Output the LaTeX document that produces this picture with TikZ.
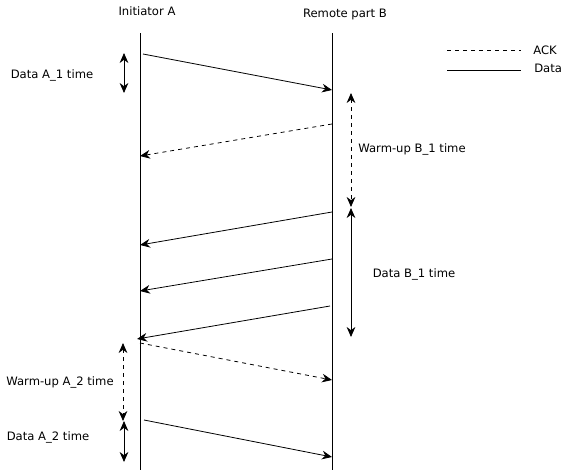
\documentclass[tikz,border=0pt]{standalone}
\usepackage{fontspec}
\setmainfont{DejaVu Sans}
\usetikzlibrary{arrows.meta}
\tikzstyle{diagram} = [x = 0.75pt, y = -0.75pt, every node/.style={font=\fontsize{8.7}{10}\selectfont}]
\tikzstyle{lifeLine} = [color=black, semithick]
\tikzstyle{dataMsg} = [color=black, semithick, -{Stealth[length=7.5pt, width=6.5pt]}]
\tikzstyle{ackMsg} = [dataMsg, dashed]
\tikzstyle{spanStyle} = [color=black, semithick, {Stealth[length=7.5pt, width=6.5pt]}-{Stealth[length=7.5pt, width=6.5pt]}]
\tikzstyle{warmSpan} = [spanStyle, dashed]
\newcommand{\lifeLineAt}[2]{\coordinate (#1Top) at (#2, 33); \coordinate (#1Bottom) at (#2, 470); \draw [lifeLine] (#1Top) -- (#1Bottom);}
\newcommand{\sendMsg}[4]{\coordinate (#1Start) at (#3); \coordinate (#1End) at (#4); \draw [#2] (#1Start) -- (#1End);}

\begin{document}
\begin{tikzpicture}[diagram]
  \useasboundingbox (0,0) rectangle (561,475);

  % lifelines
  \lifeLineAt{lineA}{140}
  \lifeLineAt{lineB}{332}
  \node (titleA) at (147,11) {Initiator A};
  \node (titleB) at (345,14) {Remote part B};

  % legend
  \coordinate (ackLeft) at (447,50);
  \coordinate (ackRight) at (521,50);
  \coordinate (dataLeft) at (447,70);
  \coordinate (dataRight) at (521,70);
  \draw [lifeLine, dashed] (ackLeft) -- (ackRight);
  \draw [lifeLine] (dataLeft) -- (dataRight);
  \node [anchor=west, inner sep=0pt] (ackText) at (533,50) {ACK};
  \node [anchor=west, inner sep=0pt] (dataText) at (534,68) {Data};

  % messages
  \sendMsg{msgOne}{dataMsg}{143,54}{332,90}
  \sendMsg{msgTwo}{ackMsg}{332,124}{140,156}
  \sendMsg{msgThree}{dataMsg}{332,212}{140,245}
  \sendMsg{msgFour}{dataMsg}{332,259}{140,291}
  \sendMsg{msgFive}{dataMsg}{330,306}{137,339}
  \sendMsg{msgSix}{ackMsg}{140,343}{332,380}
  \sendMsg{msgSeven}{dataMsg}{144,420}{332,457}

  % time spans
  \coordinate (spanATop) at (124,53);
  \coordinate (spanABottom) at (124,93);
  \draw [spanStyle] (spanATop) -- (spanABottom);
  \node (spanAText) at (52,75) {Data A\_1 time};

  \coordinate (warmBTop) at (351,93);
  \coordinate (warmBBottom) at (351,207);
  \draw [warmSpan] (warmBTop) -- (warmBBottom);
  \node (warmBText) at (412,149) {Warm-up B\_1 time};

  \coordinate (spanBTop) at (351,208);
  \coordinate (spanBBottom) at (351,337);
  \draw [spanStyle] (spanBTop) -- (spanBBottom);
  \node (spanBText) at (414,274) {Data B\_1 time};

  \coordinate (warmATop) at (123,343);
  \coordinate (warmABottom) at (123,421);
  \draw [warmSpan] (warmATop) -- (warmABottom);
  \node (warmAText) at (60,382) {Warm-up A\_2 time};

  \coordinate (spanCTop) at (124,421);
  \coordinate (spanCBottom) at (124,462);
  \draw [spanStyle] (spanCTop) -- (spanCBottom);
  \node (spanCText) at (48,437) {Data A\_2 time};
\end{tikzpicture}
\end{document}
